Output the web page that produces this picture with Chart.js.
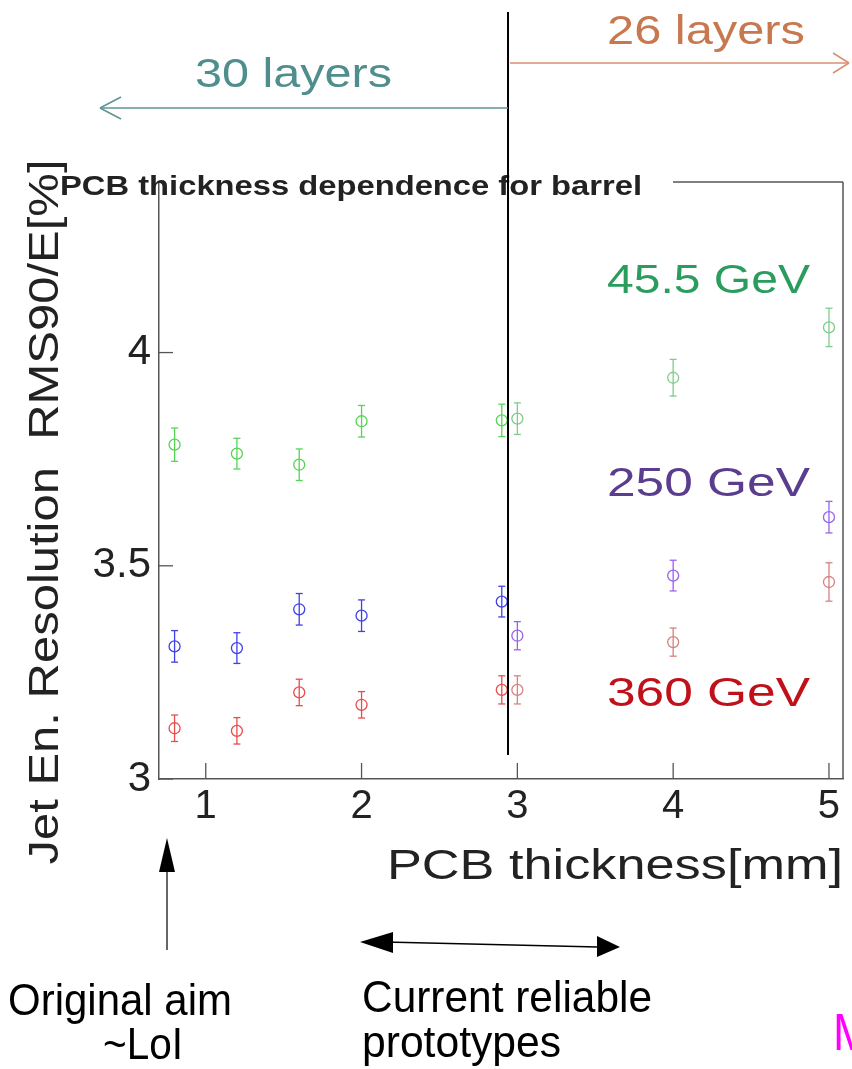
<!DOCTYPE html>
<html><head><meta charset="utf-8">
<script src="https://cdn.jsdelivr.net/npm/chart.js@4.4.1/dist/chart.umd.min.js"></script>
<style>html,body{margin:0;padding:0;background:#fff;}canvas{display:block;}</style>
</head><body>
<canvas id="c" width="852" height="1069"></canvas>
<script>
// ---- data ----
const x30 = [0.8, 1.2, 1.6, 2.0, 2.9];
const x26 = [3.0, 4.0, 5.0];
const green30 = [3.784, 3.763, 3.737, 3.839, 3.841];
const green30Err = [0.039, 0.036, 0.037, 0.037, 0.038];
const green26 = [3.845, 3.941, 4.059];
const green26Err = [0.037, 0.043, 0.045];
const blue30 = [3.311, 3.307, 3.398, 3.383, 3.416];
const blue30Err = [0.037, 0.036, 0.037, 0.037, 0.036];
const purple26 = [3.336, 3.477, 3.614];
const purple26Err = [0.033, 0.036, 0.037];
const red30 = [3.119, 3.113, 3.203, 3.174, 3.209];
const red30Err = [0.031, 0.031, 0.031, 0.031, 0.033];
const red26 = [3.209, 3.321, 3.462];
const red26Err = [0.033, 0.033, 0.045];
const xTicks = [1, 2, 3, 4, 5];
const yTicks = [3, 3.5, 4];
const yTickLabels = ['3', '3.5', '4'];
const energyLabels = ['45.5 GeV', '250 GeV', '360 GeV'];
const layerLabels = ['30 layers', '26 layers'];
const boundaryX = 2.94;

function pts(xs, ys) { return xs.map((x, i) => ({x: x, y: ys[i]})); }
function ds(xs, ys, errs, color) {
  return { data: pts(xs, ys), errs: errs, borderColor: color, backgroundColor: 'rgba(0,0,0,0)',
    pointStyle: 'circle', pointRadius: 5.5, pointBorderWidth: 1.3, showLine: false };
}

function txt(ctx, s, x, y, font, color, align, targetW) {
  ctx.save();
  ctx.font = font; ctx.fillStyle = color; ctx.textBaseline = 'middle';
  const w = ctx.measureText(s).width;
  const sx = targetW ? targetW / w : 1;
  ctx.translate(x, y); ctx.scale(sx, 1);
  ctx.textAlign = align || 'left';
  ctx.fillText(s, 0, 0);
  ctx.restore();
}
function line(ctx, x1, y1, x2, y2, color, w) {
  ctx.save(); ctx.strokeStyle = color; ctx.lineWidth = w; ctx.beginPath();
  ctx.moveTo(x1, y1); ctx.lineTo(x2, y2); ctx.stroke(); ctx.restore();
}
function tri(ctx, pts, color) {
  ctx.save(); ctx.fillStyle = color; ctx.beginPath(); ctx.moveTo(pts[0][0], pts[0][1]);
  for (let i = 1; i < pts.length; i++) ctx.lineTo(pts[i][0], pts[i][1]);
  ctx.closePath(); ctx.fill(); ctx.restore();
}

const errorBars = {
  id: 'errorBars',
  afterDatasetsDraw(chart) {
    const ctx = chart.ctx, xs = chart.scales.x, ys = chart.scales.y;
    chart.data.datasets.forEach(d => {
      d.data.forEach((p, i) => {
        const px = xs.getPixelForValue(p.x);
        const y1 = ys.getPixelForValue(p.y - d.errs[i]);
        const y2 = ys.getPixelForValue(p.y + d.errs[i]);
        line(ctx, px, y1, px, y2, d.borderColor, 1.3);
        line(ctx, px - 3.5, y1, px + 3.5, y1, d.borderColor, 1.3);
        line(ctx, px - 3.5, y2, px + 3.5, y2, d.borderColor, 1.3);
      });
    });
  }
};

const F = '"Liberation Sans", Arial, sans-serif';
const FN = '"Liberation Sans Narrow", "Liberation Sans", Arial, sans-serif';
const deco = {
  id: 'deco',
  afterDraw(chart) {
    const ctx = chart.ctx, a = chart.chartArea, xs = chart.scales.x, ys = chart.scales.y;
    const frame = '#555';
    // frame: right and partial top
    line(ctx, a.right, a.top, a.right, a.bottom, frame, 1.5);
    line(ctx, 673, a.top, a.right, a.top, frame, 1.5);
    // inward ticks
    xTicks.forEach(v => { const px = xs.getPixelForValue(v); line(ctx, px, a.bottom, px, a.bottom - 16, frame, 1.3); });
    yTicks.forEach(v => { const py = ys.getPixelForValue(v); line(ctx, a.left, py, a.left + 14, py, frame, 1.3); });
    // title
    txt(ctx, 'PCB thickness dependence for barrel', 60, 188, 'bold 27px ' + F, '#222', 'left', 582);
    // axis titles
    txt(ctx, 'PCB thickness[mm]', 843, 867, '42px ' + F, '#222', 'right', 456);
    ctx.save(); ctx.translate(46, 512); ctx.rotate(-Math.PI / 2);
    txt(ctx, 'Jet En. Resolution  RMS90/E[%]', 0, 0, '42px ' + F, '#222', 'center', 705);
    ctx.restore();
    // energy labels
    txt(ctx, energyLabels[0], 607, 282, '40px ' + F, '#2a9d5e', 'left', 203);
    txt(ctx, energyLabels[1], 607, 485, '40px ' + F, '#5b3d8f', 'left', 203);
    txt(ctx, energyLabels[2], 607, 695, '40px ' + F, '#c0101a', 'left', 203);
    // boundary line
    const bx = xs.getPixelForValue(boundaryX);
    line(ctx, bx, 12, bx, 755, '#000', 2);
    // layer annotations
    txt(ctx, layerLabels[0], 195, 76, '40px ' + F, '#4e8e8c', 'left', 197);
    line(ctx, bx, 108, 100, 108, '#5f9595', 1.5);
    line(ctx, 100, 108, 121, 97, '#5f9595', 1.5);
    line(ctx, 100, 108, 121, 119, '#5f9595', 1.5);
    txt(ctx, layerLabels[1], 607, 33, '40px ' + F, '#c8784f', 'left', 198);
    line(ctx, bx + 2, 63, 849, 63, '#d99070', 1.5);
    line(ctx, 849, 63, 833, 53, '#d99070', 1.5);
    line(ctx, 849, 63, 833, 73, '#d99070', 1.5);
    // bottom annotations
    line(ctx, 167, 950, 167, 868, '#000', 1.2);
    tri(ctx, [[167, 838], [159, 872], [175, 872]], '#000');
    txt(ctx, 'Original aim', 8, 1003, '44px ' + FN, '#000', 'left', 224);
    txt(ctx, '~LoI', 103, 1047, '44px ' + FN, '#000', 'left', 80);
    line(ctx, 385, 942, 598, 947, '#000', 1.5);
    tri(ctx, [[360, 942], [393, 932], [393, 953]], '#000');
    tri(ctx, [[620, 947], [597, 936], [597, 957]], '#000');
    txt(ctx, 'Current reliable', 362, 1000, '44px ' + FN, '#000', 'left', 290);
    txt(ctx, 'prototypes', 362, 1045, '44px ' + FN, '#000', 'left', 199);
    txt(ctx, 'M', 833, 1036, '52px ' + FN, '#ff00ff', 'left', 38);
  }
};

new Chart(document.getElementById('c'), {
  type: 'scatter',
  data: { datasets: [
    ds(x30, green30, green30Err, '#55d455'),
    ds(x26, green26, green26Err, '#7fcc8c'),
    ds(x30, blue30, blue30Err, '#4040e8'),
    ds(x26, purple26, purple26Err, '#9a62ee'),
    ds(x30, red30, red30Err, '#e84c4c'),
    ds(x26, red26, red26Err, '#d98080')
  ]},
  options: {
    responsive: false, animation: false, devicePixelRatio: 1,
    layout: { padding: { left: 0, right: 9, top: 182, bottom: 0 } },
    plugins: { legend: { display: false }, tooltip: { enabled: false } },
    scales: {
      x: { type: 'linear', min: 0.70, max: 5.09,
        afterFit(s) { s.height = 290; },
        afterBuildTicks(s) { s.ticks = xTicks.map(v => ({value: v})); },
        grid: { display: false, drawTicks: false },
        border: { display: true, color: '#555', width: 1.5 },
        ticks: { padding: 4, color: '#222', font: { size: 40, family: F } } },
      y: { type: 'linear', min: 3, max: 4.40,
        afterFit(s) { s.width = 159; },
        afterBuildTicks(s) { s.ticks = yTicks.map(v => ({value: v})); },
        grid: { display: false, drawTicks: false },
        border: { display: true, color: '#555', width: 1.5 },
        ticks: { padding: 8, color: '#222', font: { size: 42, family: F },
          callback: (v) => yTickLabels[yTicks.indexOf(v)] ?? '' } }
    }
  },
  plugins: [errorBars, deco]
});
</script>
</body></html>
